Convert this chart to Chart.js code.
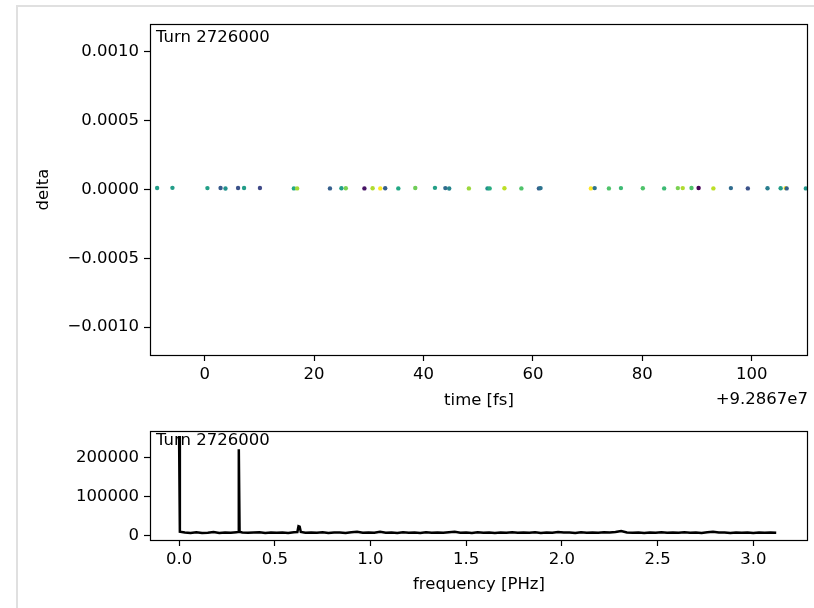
<!DOCTYPE html>
<html>
<head>
<meta charset="utf-8">
<script src="https://cdn.jsdelivr.net/npm/chart.js@4.4.0/dist/chart.umd.min.js"></script>
<style>
  html, body { margin: 0; padding: 0; background: #fff; }
  #frame { position: absolute; left: 16px; top: 5px; width: 820px; height: 620px;
           border-left: 2px solid #e0e0e0; border-top: 2px solid #e0e0e0; }
  canvas { position: absolute; left: 0; top: 0; pointer-events: none; }
</style>
</head>
<body>
<div id="frame"></div>
<canvas id="deltaChart" width="814" height="608"></canvas>
<canvas id="specChart" width="814" height="608"></canvas>
<script>
// labels / ticks
const turnLabel = 'Turn 2726000';
const timeOffsetLabel = '+9.2867e7';
const timeTicks = [0, 20, 40, 60, 80, 100];
const deltaTicks = [-0.001, -0.0005, 0, 0.0005, 0.001];
const freqTicks = [0, 0.5, 1, 1.5, 2, 2.5, 3];
const ampTicks = [0, 100000, 200000];

// particles: time (relative to offset), delta, colour value
const times = [-8.7, -5.9, 0.5, 2.9, 3.8, 6.1, 7.2, 10.1, 16.3, 16.9, 22.9, 25.0, 25.8, 29.2,
  30.7, 32.1, 33.0, 35.4, 38.5, 42.1, 44.0, 44.7, 48.3, 51.7, 52.1, 54.8, 57.9, 61.1, 61.4,
  70.6, 71.3, 73.9, 76.1, 80.1, 84.0, 86.5, 87.4, 89.0, 90.3, 93.0, 96.2, 99.3, 102.9,
  105.3, 106.2, 106.4, 109.9];
const deltas = [0.000011, 0.000012, 0.00001, 0.000011, 0.000007, 0.000011, 0.000011, 0.000011,
  0.000008, 0.000008, 0.000008, 0.000009, 0.000009, 0.000008, 0.000009, 0.000008, 0.000009,
  0.000008, 0.000011, 0.000012, 0.000010, 0.000007, 0.000008, 0.000008, 0.000008, 0.000009,
  0.000008, 0.000008, 0.000010, 0.000008, 0.000010, 0.000008, 0.000010, 0.000009, 0.000008,
  0.000010, 0.000010, 0.000011, 0.000011, 0.000008, 0.000010, 0.000008, 0.000009, 0.000009,
  0.000010, 0.000008, 0.000008];
const phases = [0.55, 0.55, 0.56, 0.28, 0.5, 0.25, 0.55, 0.22, 0.6, 0.86, 0.3, 0.55, 0.8, 0.05,
  0.88, 1.0, 0.3, 0.6, 0.78, 0.56, 0.35, 0.45, 0.85, 0.5, 0.62, 0.9, 0.72, 0.3, 0.38,
  1.0, 0.38, 0.72, 0.68, 0.72, 0.68, 0.8, 0.88, 0.72, 0.0, 0.9, 0.35, 0.25, 0.42,
  0.55, 1.0, 0.3, 0.52];

// spectrum
const freqs = [0, 0.004, 0.03, 0.06, 0.09, 0.12, 0.15, 0.18, 0.21, 0.24, 0.27, 0.30, 0.308, 0.312,
  0.316, 0.33, 0.36, 0.39, 0.42, 0.45, 0.48, 0.51, 0.54, 0.57, 0.60, 0.618, 0.624, 0.63, 0.636,
  0.66, 0.69, 0.72, 0.75, 0.78, 0.81, 0.84, 0.87, 0.90, 0.93, 0.96, 0.99, 1.02, 1.05, 1.08,
  1.11, 1.14, 1.17, 1.20, 1.23, 1.26, 1.29, 1.32, 1.35, 1.38, 1.41, 1.44, 1.47, 1.50, 1.53,
  1.56, 1.59, 1.62, 1.65, 1.68, 1.71, 1.74, 1.77, 1.80, 1.83, 1.86, 1.89, 1.92, 1.95, 1.98,
  2.01, 2.04, 2.07, 2.10, 2.13, 2.16, 2.19, 2.22, 2.25, 2.28, 2.31, 2.34, 2.37, 2.40, 2.43,
  2.46, 2.49, 2.52, 2.55, 2.58, 2.61, 2.64, 2.67, 2.70, 2.73, 2.76, 2.79, 2.82, 2.85, 2.88,
  2.91, 2.94, 2.97, 3.00, 3.03, 3.06, 3.09, 3.12];
const amps = [255400, 10500, 8500, 7500, 9000, 7300, 7700, 9500, 7500, 8500, 8000, 9300, 9500, 221400,
  10500, 8500, 7700, 8300, 9000, 7500, 8700, 7900, 8500, 7500, 9100, 9500, 24500, 23500, 10000,
  8000, 8500, 7700, 8900, 7500, 8300, 8700, 7500, 9300, 10500, 8000, 8500, 7700, 10300, 7900,
  8500, 7500, 9000, 8100, 8700, 7500, 9100, 7900, 8500, 7700, 9300, 10100, 8100, 8500, 7500,
  8900, 7900, 8700, 7500, 8500, 8100, 9300, 7700, 8500, 7900, 9100, 7500, 8700, 8100, 9900,
  8300, 8700, 7500, 8900, 7900, 8500, 7700, 9100, 8300, 9500, 12000, 8500, 7900, 8700, 7500,
  8500, 8100, 8900, 7700, 8500, 7900, 9300, 8100, 8500, 7500, 8900, 10500, 8300, 8700, 7500,
  8500, 7900, 8700, 7500, 8300, 7900, 8500, 8000];

// viridis lookup
const viridisStops = ['#440154', '#482475', '#414487', '#355f8d', '#2a788e', '#21918c',
  '#22a884', '#44bf70', '#7ad151', '#bddf26', '#fde725'];
function viridis(t) {
  const p = Math.min(Math.max(t, 0), 1) * (viridisStops.length - 1);
  const i = Math.min(Math.floor(p), viridisStops.length - 2), f = p - i;
  const a = parseInt(viridisStops[i].slice(1), 16), b = parseInt(viridisStops[i + 1].slice(1), 16);
  const mix = s => Math.round(((a >> s) & 255) * (1 - f) + ((b >> s) & 255) * f);
  return `rgb(${mix(16)},${mix(8)},${mix(0)})`;
}

const FS = 16.5;
Chart.defaults.font.family = 'DejaVu Sans';
Chart.defaults.font.size = FS;
Chart.defaults.color = '#000';
const FONT = FS + 'px "DejaVu Sans"';

// matplotlib-like box, in-axes text, offset text
const axesBox = {
  id: 'axesBox',
  afterDraw(chart, args, opts) {
    const { ctx, chartArea: a } = chart;
    ctx.save();
    ctx.strokeStyle = '#000';
    ctx.lineWidth = 1.2;
    ctx.strokeRect(Math.round(a.left) + 0.5, Math.round(a.top) + 0.5,
      Math.round(a.right) - Math.round(a.left) - 1, Math.round(a.bottom) - Math.round(a.top));
    ctx.fillStyle = '#000';
    ctx.font = FONT;
    ctx.textBaseline = 'alphabetic';
    ctx.textAlign = 'left';
    ctx.fillText(opts.label, a.left + 6, a.top + 0.018 * a.height + 12.2);
    if (opts.offset) {
      ctx.textAlign = 'right';
      ctx.textBaseline = 'middle';
      ctx.fillText(opts.offset, a.right, opts.offsetY);
    }
    ctx.restore();
  }
};

function tickGrid() {
  return { drawOnChartArea: false, drawTicks: true, tickLength: 6, tickColor: '#000', tickWidth: 1.2 };
}

new Chart(document.getElementById('deltaChart'), {
  type: 'scatter',
  data: {
    datasets: [{
      data: times.map((t, i) => ({ x: t, y: deltas[i] })),
      backgroundColor: phases.map(viridis),
      borderWidth: 0,
      pointRadius: 2.2
    }]
  },
  options: {
    responsive: false,
    animation: false,
    layout: { padding: { left: 0, top: 24, right: 6, bottom: 178 } },
    plugins: {
      legend: { display: false },
      tooltip: { enabled: false },
      axesBox: { label: turnLabel, offset: timeOffsetLabel, offsetY: 400 }
    },
    scales: {
      x: {
        type: 'linear', min: -10, max: 110.3,
        afterBuildTicks: s => { s.ticks = timeTicks.map(v => ({ value: v })); },
        afterFit: s => { s.height = 75; },
        grid: tickGrid(),
        border: { display: false },
        ticks: { padding: 4, maxRotation: 0, callback: v => String(v) },
        title: { display: true, text: 'time [fs]', padding: { top: 0, bottom: 19 } }
      },
      y: {
        min: -0.0012036, max: 0.0012036,
        afterBuildTicks: s => { s.ticks = deltaTicks.map(v => ({ value: v })); },
        afterFit: s => { s.width = 150; },
        grid: tickGrid(),
        border: { display: false },
        ticks: { padding: 5, callback: v => (v < 0 ? '\u2212' : '') + Math.abs(v).toFixed(4) },
        title: { display: true, text: 'delta', padding: { top: 34, bottom: 0 } }
      }
    }
  },
  plugins: [axesBox]
});

new Chart(document.getElementById('specChart'), {
  type: 'line',
  data: {
    datasets: [{
      data: freqs.map((f, i) => ({ x: f, y: amps[i] })),
      borderColor: '#000',
      borderWidth: 2.5,
      pointRadius: 0,
      fill: false,
      tension: 0
    }]
  },
  options: {
    responsive: false,
    animation: false,
    layout: { padding: { left: 0, top: 431, right: 6, bottom: 8 } },
    plugins: {
      legend: { display: false },
      tooltip: { enabled: false },
      axesBox: { label: turnLabel }
    },
    scales: {
      x: {
        type: 'linear', min: -0.152, max: 3.286,
        afterBuildTicks: s => { s.ticks = freqTicks.map(v => ({ value: v })); },
        afterFit: s => { s.height = 60; },
        grid: tickGrid(),
        border: { display: false },
        ticks: { padding: 4, maxRotation: 0, callback: v => v.toFixed(1) },
        title: { display: true, text: 'frequency [PHz]', padding: { top: 0, bottom: 5 } }
      },
      y: {
        min: -10700, max: 268100,
        afterBuildTicks: s => { s.ticks = ampTicks.map(v => ({ value: v })); },
        afterFit: s => { s.width = 150; },
        grid: tickGrid(),
        border: { display: false },
        ticks: { padding: 5, callback: v => String(v) }
      }
    }
  },
  plugins: [axesBox]
});
</script>
</body>
</html>
